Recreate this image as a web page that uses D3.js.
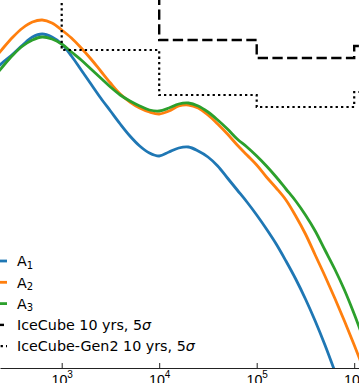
<!DOCTYPE html>
<html>
<head>
<meta charset="utf-8">
<script src="https://cdn.jsdelivr.net/npm/d3@7"></script>
<style>
  body { margin: 0; background: #fff; }
  #chart svg { display: block; }
</style>
</head>
<body>
<div id="chart"></div>
<script>
const logE = [2.3, 2.4, 2.5, 2.6, 2.7, 2.8, 2.9, 3.0, 3.1, 3.2, 3.3, 3.4, 3.5,
              3.6, 3.7, 3.8, 3.9, 4.0, 4.1, 4.2, 4.3, 4.4, 4.5, 4.6, 4.7, 4.8,
              4.9, 5.0, 5.1, 5.2, 5.3, 5.4, 5.5, 5.6, 5.7, 5.8, 5.9, 6.0, 6.1];

// log10 of E^2 flux, arbitrary units
const fluxA1 = [-8.71, -8.62, -8.54, -8.45, -8.37, -8.34, -8.37, -8.44, -8.56, -8.70, -8.84, -8.98, -9.11,
                -9.24, -9.36, -9.46, -9.53, -9.56, -9.52, -9.48, -9.47, -9.51, -9.57, -9.66, -9.78, -9.90,
                -10.02, -10.15, -10.29, -10.44, -10.61, -10.79, -10.99, -11.21, -11.45, -11.71, -11.98, -12.26, -12.55];
const fluxA2 = [-8.60, -8.48, -8.37, -8.28, -8.22, -8.20, -8.23, -8.30, -8.38, -8.48, -8.59, -8.71, -8.83,
                -8.94, -9.02, -9.08, -9.12, -9.14, -9.11, -9.06, -9.05, -9.08, -9.15, -9.24, -9.34, -9.45,
                -9.55, -9.65, -9.77, -9.88, -10.00, -10.16, -10.34, -10.55, -10.76, -10.98, -11.21, -11.45, -11.70];
const fluxA3 = [-8.78, -8.66, -8.55, -8.46, -8.40, -8.37, -8.39, -8.44, -8.52, -8.60, -8.69, -8.78, -8.87,
                -8.95, -9.01, -9.06, -9.10, -9.11, -9.08, -9.04, -9.03, -9.06, -9.12, -9.20, -9.29, -9.39,
                -9.47, -9.56, -9.66, -9.77, -9.89, -10.01, -10.15, -10.31, -10.50, -10.69, -10.90, -11.14, -11.40];

// 5 sigma discovery steps: bin edges in log10(E) and one level per bin
const icecubeEdges = [3, 4, 5, 6, 7];
const icecubeLevels = [-7.60, -8.40, -8.58, -8.46];
const gen2Edges = [2, 3, 4, 5, 6, 7];
const gen2Levels = [-7.60, -8.50, -8.95, -9.07, -8.92];

const tickExps = [3, 4, 5, 6];
const modelNames = ["1", "2", "3"];
const sensNames = ["IceCube 10 yrs, 5", "IceCube-Gen2 10 yrs, 5"];

function FluxChart(container){
    this.container = container;
    this.width = 359;
    this.height = 383;
    this.axisY = 368;
    this.svg = null;
    this.colors = ["#1f77b4", "#ff7f0e", "#2ca02c"];
    this.font = "DejaVu Sans, sans-serif";
}

FluxChart.prototype = {
    constructor: FluxChart,

    init: function(){
        let self = this;

        d3.select("#" + self.container).select("svg").remove();
        self.svg = d3.select("#" + self.container).append("svg")
            .attr("width", self.width)
            .attr("height", self.height)
            .style("font-family", self.font);

        // decades sit 97.5px apart, 1e3 at 61.7px
        let base = d3.scaleLog().domain([1e3, 1e6]).range([61.7, 354.2]);
        let x = d3.scaleLog().domain([base.invert(0), base.invert(self.width)]).range([0, self.width]),
            y = d3.scaleLinear().domain([-11.68, -8]).range([self.axisY, 0]);

        self.svg.append("clipPath").attr("id", "plotclip")
            .append("rect").attr("x", 0).attr("y", 0)
            .attr("width", self.width).attr("height", self.axisY);

        let plot = self.svg.append("g").attr("clip-path", "url(#plotclip)");

        let line = d3.line()
            .curve(d3.curveCatmullRom.alpha(0.5))
            .x(function(d) { return x(Math.pow(10, d[0])); })
            .y(function(d) { return y(d[1]); });

        [fluxA1, fluxA2, fluxA3].forEach(function(series, i){
            plot.append("path")
                .attr("d", line(logE.map(function(l, j){ return [l, series[j]]; })))
                .attr("fill", "none")
                .attr("stroke", self.colors[i])
                .attr("stroke-width", 2.8)
                .attr("stroke-linejoin", "round");
        });

        let step = d3.line()
            .curve(d3.curveStepAfter)
            .x(function(d) { return x(Math.pow(10, d[0])); })
            .y(function(d) { return y(d[1]); });

        function stepPoints(edges, levels){
            let pts = levels.map(function(v, i){ return [edges[i], v]; });
            pts.push([edges[edges.length - 1], levels[levels.length - 1]]);
            return pts;
        }

        plot.append("path")
            .attr("d", step(stepPoints(icecubeEdges, icecubeLevels)))
            .attr("fill", "none")
            .attr("stroke", "#000")
            .attr("stroke-width", 2.4)
            .attr("stroke-dasharray", "10.3,4.4");

        plot.append("path")
            .attr("d", step(stepPoints(gen2Edges, gen2Levels)))
            .attr("fill", "none")
            .attr("stroke", "#000")
            .attr("stroke-width", 2.2)
            .attr("stroke-dasharray", "2.3,3.1");

        // bottom axis, ticks pointing inward
        let axis = self.svg.append("g")
            .attr("transform", "translate(0," + self.axisY + ")")
            .call(d3.axisBottom(x)
                .tickValues(tickExps.map(function(e){ return Math.pow(10, e); }))
                .tickSizeInner(-5)
                .tickSizeOuter(0)
                .tickPadding(0)
                .tickFormat(""));

        axis.select(".domain").attr("stroke", "#222").attr("stroke-width", 1);
        axis.selectAll(".tick line").attr("stroke", "#222").attr("stroke-width", 1);

        axis.selectAll(".tick text").each(function(d){
            let t = d3.select(this)
                .attr("y", 17)
                .attr("dy", null)
                .attr("fill", "#000")
                .style("font-size", "14.3px")
                .attr("text-anchor", "middle");
            t.append("tspan").text("10");
            t.append("tspan")
                .attr("dy", -7)
                .style("font-size", "10px")
                .text(Math.round(Math.log10(d)));
        });

        // legend, handles run off the left edge
        let legend = self.svg.append("g");
        let rowY = function(i){ return 261 + i * 21.3; };

        modelNames.forEach(function(n, i){
            legend.append("line")
                .attr("x1", -21).attr("x2", 7)
                .attr("y1", rowY(i)).attr("y2", rowY(i))
                .attr("stroke", self.colors[i])
                .attr("stroke-width", 2.8);
            let t = legend.append("text")
                .attr("x", 17).attr("y", rowY(i) + 5.2)
                .style("font-size", "14.3px");
            t.append("tspan").text("A");
            t.append("tspan").attr("dy", 2.6).style("font-size", "10px").text(n);
        });

        sensNames.forEach(function(n, k){
            let i = k + 3;
            legend.append("line")
                .attr("x1", -21).attr("x2", 7)
                .attr("y1", rowY(i)).attr("y2", rowY(i))
                .attr("stroke", "#000")
                .attr("stroke-width", k === 0 ? 2.4 : 2.2)
                .attr("stroke-dasharray", k === 0 ? "10.3,4.4" : "2.3,3.1");
            let t = legend.append("text")
                .attr("x", 17).attr("y", rowY(i) + 5.2)
                .style("font-size", "14.3px");
            t.append("tspan").text(n);
            t.append("tspan").style("font-style", "italic").text("σ");
        });
    }
};

let chart = new FluxChart("chart");
chart.init();
</script>
</body>
</html>
